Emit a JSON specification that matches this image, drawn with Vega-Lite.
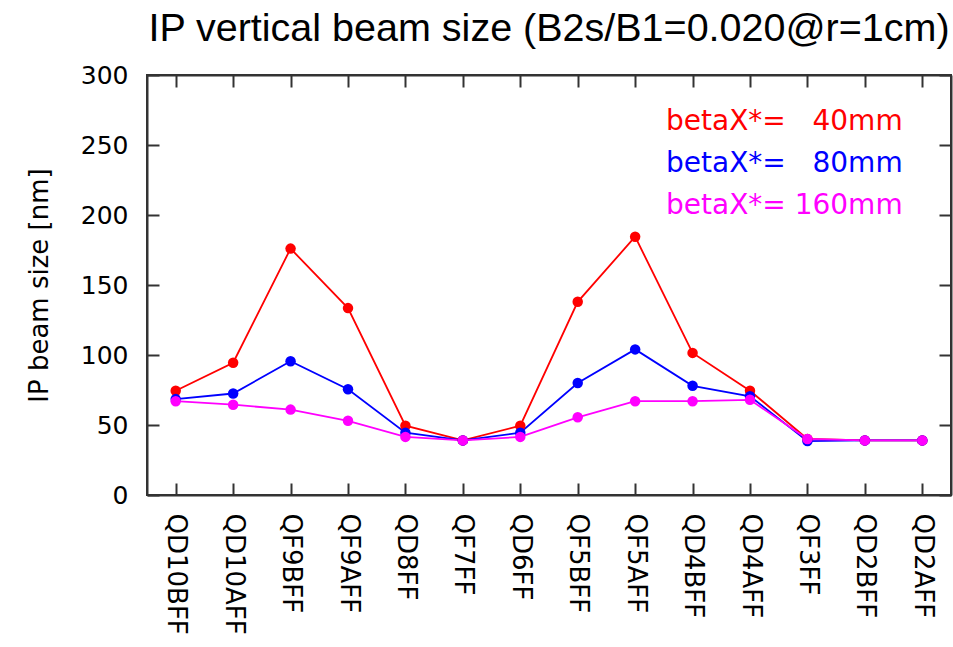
{
  "$schema": "https://vega.github.io/schema/vega-lite/v6.json",
  "autosize": "none",
  "width": 804,
  "height": 420,
  "padding": {"left": 147, "top": 75, "right": 2, "bottom": 152},
  "background": "white",
  "title": {
    "text": "IP vertical beam size (B2s/B1=0.020@r=1cm)",
    "font": "Liberation Sans",
    "fontSize": 39.5,
    "fontWeight": "normal",
    "color": "#000000",
    "anchor": "middle",
    "offset": 14
  },
  "config": {
    "view": {"stroke": "#333333", "strokeWidth": 2},
    "axis": {
      "domainColor": "#333333",
      "domainWidth": 2,
      "tickColor": "#333333",
      "tickWidth": 2,
      "grid": false,
      "labelFont": "DejaVu Sans",
      "labelFontSize": 25,
      "labelColor": "#000000",
      "titleFont": "DejaVu Sans",
      "titleFontSize": 26,
      "titleFontWeight": "normal",
      "titleColor": "#000000"
    }
  },
  "data": {
    "values": [
      {"element": "QD10BFF", "series": "betaX*=\u00a0\u00a0\u00a040mm", "size": 74.5},
      {"element": "QD10AFF", "series": "betaX*=\u00a0\u00a0\u00a040mm", "size": 94.5},
      {"element": "QF9BFF", "series": "betaX*=\u00a0\u00a0\u00a040mm", "size": 176},
      {"element": "QF9AFF", "series": "betaX*=\u00a0\u00a0\u00a040mm", "size": 133.5},
      {"element": "QD8FF", "series": "betaX*=\u00a0\u00a0\u00a040mm", "size": 49.5},
      {"element": "QF7FF", "series": "betaX*=\u00a0\u00a0\u00a040mm", "size": 39},
      {"element": "QD6FF", "series": "betaX*=\u00a0\u00a0\u00a040mm", "size": 49.5},
      {"element": "QF5BFF", "series": "betaX*=\u00a0\u00a0\u00a040mm", "size": 138},
      {"element": "QF5AFF", "series": "betaX*=\u00a0\u00a0\u00a040mm", "size": 184.5},
      {"element": "QD4BFF", "series": "betaX*=\u00a0\u00a0\u00a040mm", "size": 101.5},
      {"element": "QD4AFF", "series": "betaX*=\u00a0\u00a0\u00a040mm", "size": 74.5},
      {"element": "QF3FF", "series": "betaX*=\u00a0\u00a0\u00a040mm", "size": 40},
      {"element": "QD2BFF", "series": "betaX*=\u00a0\u00a0\u00a040mm", "size": 39},
      {"element": "QD2AFF", "series": "betaX*=\u00a0\u00a0\u00a040mm", "size": 39},
      {"element": "QD10BFF", "series": "betaX*=\u00a0\u00a0\u00a080mm", "size": 68.5},
      {"element": "QD10AFF", "series": "betaX*=\u00a0\u00a0\u00a080mm", "size": 72.5},
      {"element": "QF9BFF", "series": "betaX*=\u00a0\u00a0\u00a080mm", "size": 95.5},
      {"element": "QF9AFF", "series": "betaX*=\u00a0\u00a0\u00a080mm", "size": 75.5},
      {"element": "QD8FF", "series": "betaX*=\u00a0\u00a0\u00a080mm", "size": 44.5},
      {"element": "QF7FF", "series": "betaX*=\u00a0\u00a0\u00a080mm", "size": 39},
      {"element": "QD6FF", "series": "betaX*=\u00a0\u00a0\u00a080mm", "size": 44.5},
      {"element": "QF5BFF", "series": "betaX*=\u00a0\u00a0\u00a080mm", "size": 80},
      {"element": "QF5AFF", "series": "betaX*=\u00a0\u00a0\u00a080mm", "size": 104},
      {"element": "QD4BFF", "series": "betaX*=\u00a0\u00a0\u00a080mm", "size": 78},
      {"element": "QD4AFF", "series": "betaX*=\u00a0\u00a0\u00a080mm", "size": 70.5},
      {"element": "QF3FF", "series": "betaX*=\u00a0\u00a0\u00a080mm", "size": 38.5},
      {"element": "QD2BFF", "series": "betaX*=\u00a0\u00a0\u00a080mm", "size": 39},
      {"element": "QD2AFF", "series": "betaX*=\u00a0\u00a0\u00a080mm", "size": 39},
      {"element": "QD10BFF", "series": "betaX*= 160mm", "size": 67},
      {"element": "QD10AFF", "series": "betaX*= 160mm", "size": 64.5},
      {"element": "QF9BFF", "series": "betaX*= 160mm", "size": 61},
      {"element": "QF9AFF", "series": "betaX*= 160mm", "size": 53},
      {"element": "QD8FF", "series": "betaX*= 160mm", "size": 41.5},
      {"element": "QF7FF", "series": "betaX*= 160mm", "size": 39},
      {"element": "QD6FF", "series": "betaX*= 160mm", "size": 41.5},
      {"element": "QF5BFF", "series": "betaX*= 160mm", "size": 55.5},
      {"element": "QF5AFF", "series": "betaX*= 160mm", "size": 67},
      {"element": "QD4BFF", "series": "betaX*= 160mm", "size": 67},
      {"element": "QD4AFF", "series": "betaX*= 160mm", "size": 68},
      {"element": "QF3FF", "series": "betaX*= 160mm", "size": 40},
      {"element": "QD2BFF", "series": "betaX*= 160mm", "size": 39},
      {"element": "QD2AFF", "series": "betaX*= 160mm", "size": 39}
    ]
  },
  "encoding": {
    "color": {
      "field": "series",
      "type": "nominal",
      "scale": {
        "domain": ["betaX*=\u00a0\u00a0\u00a040mm", "betaX*=\u00a0\u00a0\u00a080mm", "betaX*= 160mm"],
        "range": ["#ff0000", "#0000ff", "#ff00ff"]
      },
      "legend": {
        "orient": "none",
        "legendX": 491,
        "legendY": 33,
        "title": null,
        "labelFont": "DejaVu Sans",
        "labelFontSize": 28,
        "labelLimit": 0,
        "labelOffset": 0,
        "symbolSize": 0,
        "symbolOpacity": 0,
        "symbolStrokeWidth": 0,
        "rowPadding": 14,
        "labelColor": {"expr": "scale('color', datum.value)"}
      }
    }
  },
  "layer": [
    {
      "mark": {"type": "line", "strokeWidth": 1.8},
      "encoding": {
        "x": {
          "field": "element",
          "type": "ordinal",
          "sort": null,
          "scale": {"type": "point", "padding": 0.5},
          "axis": {"title": null, "labelAngle": 90, "labelAlign": "left", "labelBaseline": "middle", "labelFontSize": 26, "tickSize": -12, "labelPadding": 30, "orient": "bottom"}
        },
        "y": {
          "field": "size",
          "type": "quantitative",
          "scale": {"domain": [0, 300], "nice": false, "zero": true},
          "axis": {"title": "IP beam size [nm]", "values": [0, 50, 100, 150, 200, 250, 300], "tickSize": -12, "labelPadding": 31, "titlePadding": 28, "orient": "left"}
        }
      }
    },
    {
      "mark": {"type": "point", "filled": true, "size": 110, "opacity": 1},
      "encoding": {
        "x": {
          "field": "element",
          "type": "ordinal",
          "sort": null,
          "axis": {"title": null, "labels": false, "tickSize": -12, "orient": "top"}
        },
        "y": {
          "field": "size",
          "type": "quantitative",
          "axis": {"title": null, "labels": false, "tickSize": -12, "values": [0, 50, 100, 150, 200, 250, 300], "orient": "right"}
        }
      }
    }
  ],
  "resolve": {"axis": {"x": "independent", "y": "independent"}}
}
